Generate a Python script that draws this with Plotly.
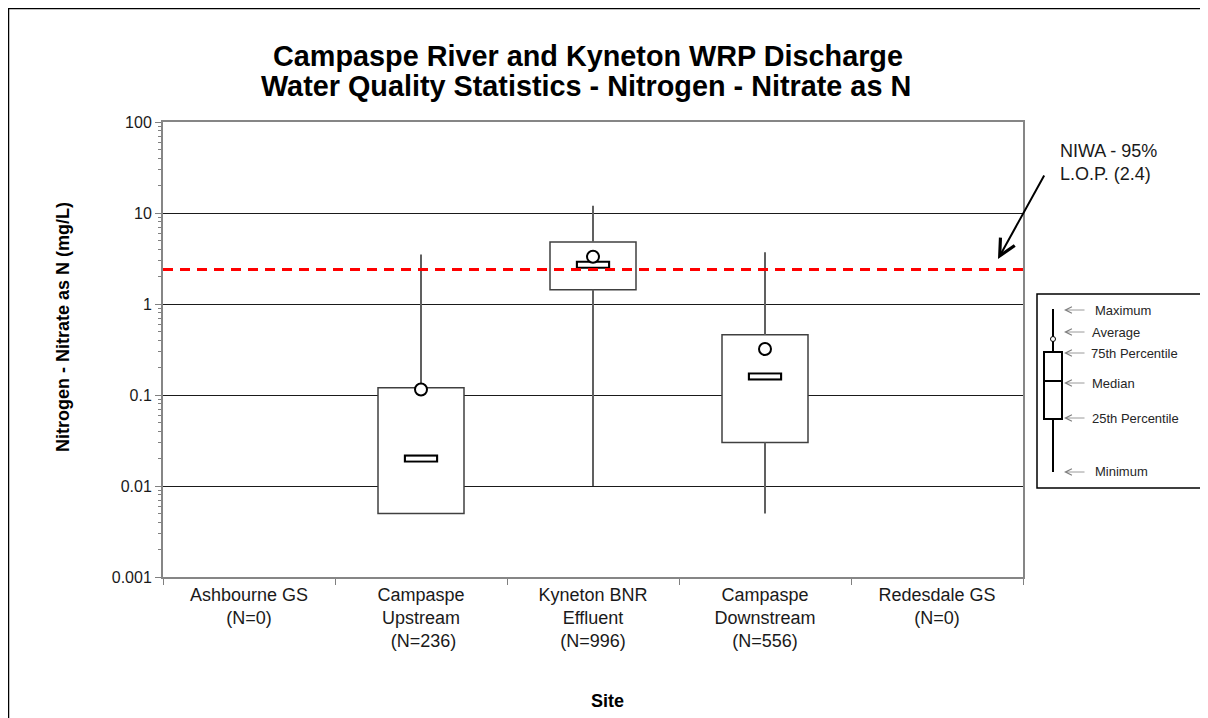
import plotly.graph_objects as go

# site statistics (mg/L)
sites = ["Ashbourne GS", "Campaspe Upstream", "Kyneton BNR Effluent",
         "Campaspe Downstream", "Redesdale GS"]
tick_labels = ["Ashbourne GS<br>(N=0)",
               "Campaspe<br>Upstream<br>\u00a0(N=236)",
               "Kyneton BNR<br>Effluent<br>(N=996)",
               "Campaspe<br>Downstream<br>(N=556)",
               "Redesdale GS<br>(N=0)"]
minimum = [None, 0.005, 0.01, 0.005, None]
pct25 = [None, 0.005, 1.43, 0.03, None]
median = [None, 0.02, 2.7, 0.16, None]
pct75 = [None, 0.12, 4.8, 0.46, None]
maximum = [None, 3.5, 12.0, 3.7, None]
average = [None, 0.115, 3.3, 0.32, None]
niwa_limit = 2.4

y_ticks = [0.001, 0.01, 0.1, 1, 10, 100]
y_ticktext = ["0.001", "0.01", "0.1", "1", "10", "100"]
y_minor = [m * d for d in y_ticks[:-1] for m in range(2, 10)]

FONT = "Liberation Sans, Arial, sans-serif"
# page has an 8px body margin, so the figure is 8px smaller than the window
W, H = 1200, 710
L, R, T, B = 155, 185, 114, 141
PW, PH = W - L - R, H - T - B
PLOT_X0, PLOT_Y1 = 163, 577   # plot area corners in page pixels


def px(x):
    return (x - PLOT_X0) / PW


def py(y):
    return (PLOT_Y1 - y) / PH


fig = go.Figure()

# boxes (25th - 75th percentile)
box_height = [None if a is None else b - a for a, b in zip(pct25, pct75)]
fig.add_trace(go.Bar(
    x=sites, y=box_height, base=pct25, width=0.5,
    marker=dict(color="white", line=dict(color="#404040", width=1.5)),
    hoverinfo="skip"))

# whiskers
wx, wy = [], []
for s, lo, q1, q3, hi in zip(sites, minimum, pct25, pct75, maximum):
    if lo is None:
        continue
    wx += [s, s, None, s, s, None]
    wy += [q3, hi, None, lo, q1, None]
fig.add_trace(go.Scatter(x=wx, y=wy, mode="lines",
                         line=dict(color="#606060", width=2), hoverinfo="skip"))

# median: small framed bar
fig.add_trace(go.Scatter(
    x=sites, y=median, mode="markers",
    marker=dict(symbol="line-ew", size=24.5, color="black",
                line=dict(color="black", width=8)), hoverinfo="skip"))
fig.add_trace(go.Scatter(
    x=sites, y=median, mode="markers",
    marker=dict(symbol="line-ew", size=21.5, color="white",
                line=dict(color="white", width=4)), hoverinfo="skip"))

# average
fig.add_trace(go.Scatter(
    x=sites, y=average, mode="markers",
    marker=dict(symbol="circle", size=12, color="white",
                line=dict(color="black", width=2)), hoverinfo="skip"))

shapes = []
# NIWA guideline
shapes.append(dict(type="line", xref="paper", x0=0, x1=1, yref="y",
                   y0=niwa_limit, y1=niwa_limit,
                   line=dict(color="#ff0000", width=3, dash="10px,7px")))
# outer chart frame
shapes.append(dict(type="rect", xref="paper", yref="paper",
                   x0=px(8.5), x1=px(1206), y0=py(8.5), y1=py(740),
                   line=dict(color="black", width=1.5)))
# legend key frame
shapes.append(dict(type="rect", xref="paper", yref="paper",
                   x0=px(1037), x1=px(1201), y0=py(294), y1=py(488),
                   line=dict(color="black", width=1.5), fillcolor="white"))
shapes.append(dict(type="line", xref="paper", yref="paper",
                   x0=px(1053), x1=px(1053), y0=py(309), y1=py(472),
                   line=dict(color="black", width=2)))
shapes.append(dict(type="rect", xref="paper", yref="paper",
                   x0=px(1044), x1=px(1062), y0=py(352), y1=py(419),
                   line=dict(color="black", width=2), fillcolor="white"))
shapes.append(dict(type="line", xref="paper", yref="paper",
                   x0=px(1044), x1=px(1062), y0=py(381), y1=py(381),
                   line=dict(color="black", width=2)))
shapes.append(dict(type="circle", xref="paper", yref="paper",
                   x0=px(1050.5), x1=px(1055.5), y0=py(336.5), y1=py(341.5),
                   line=dict(color="black", width=1), fillcolor="white"))


def label(text, x, y, size, bold=False, **kw):
    d = dict(text=f"<b>{text}</b>" if bold else text, x=px(x), y=py(y),
             xref="paper", yref="paper", showarrow=False,
             xanchor="center", yanchor="middle",
             font=dict(size=size, family=FONT, color="black"))
    d.update(kw)
    return d


annotations = [
    label("Campaspe River and Kyneton WRP Discharge", 588, 56, 28.8, True),
    label("Water Quality Statistics - Nitrogen - Nitrate as N", 586, 86, 28.8, True),
    label("Nitrogen - Nitrate as N (mg/L)", 63, 327, 18, True, textangle=-90),
    label("Site", 607, 701, 18, True),
    label("NIWA - 95%<br>L.O.P. (2.4)", 1058, 139, 18, align="left",
          xanchor="left", yanchor="top",
          font=dict(size=18, family=FONT, color="#1a1a1a")),
    dict(text="", x=px(998), y=py(259), xref="paper", yref="paper",
         showarrow=True, ax=47, ay=-85, arrowhead=5, arrowsize=1.6,
         arrowwidth=2, arrowcolor="black", standoff=0),
]

key_labels = ["Maximum", "Average", "75th Percentile", "Median",
              "25th Percentile", "Minimum"]
key_y = [310, 332, 353, 383, 418, 472]
key_x = [1093, 1090, 1089, 1090, 1090, 1093]
for lab, ky, kx in zip(key_labels, key_y, key_x):
    annotations.append(label(lab, kx, ky, 13, xanchor="left",
                             font=dict(size=13, family=FONT, color="#262626")))
    annotations.append(dict(text="", x=px(1064), y=py(ky), xref="paper",
                            yref="paper", showarrow=True, ax=22, ay=0,
                            arrowhead=5, arrowsize=1.6, arrowwidth=0.8,
                            arrowcolor="#808080", standoff=0))

fig.update_layout(
    width=W, height=H,
    margin=dict(l=L, r=R, t=T, b=B),
    paper_bgcolor="white", plot_bgcolor="white",
    showlegend=False,
    font=dict(family=FONT, color="#1a1a1a"),
    shapes=shapes, annotations=annotations,
)
fig.update_xaxes(
    type="category", categoryorder="array", categoryarray=sites,
    tickvals=sites, ticktext=tick_labels, tickson="boundaries",
    ticks="outside", ticklen=6, tickcolor="#808080",
    tickfont=dict(size=18, family=FONT, color="#1a1a1a"),
    showline=True, linecolor="#868686", linewidth=2, mirror=True,
    showgrid=False, range=[-0.5, 4.5], zeroline=False)
fig.update_yaxes(
    type="log", range=[-3, 2], tickvals=y_ticks, ticktext=y_ticktext,
    ticks="outside", ticklen=6, tickcolor="#808080",
    tickfont=dict(size=16, family=FONT, color="#1a1a1a"),
    showline=True, linecolor="#868686", linewidth=2, mirror=True,
    showgrid=True, gridcolor="#1a1a1a", gridwidth=1,
    minor=dict(ticks="outside", ticklen=3, tickvals=y_minor,
               tickcolor="#808080", showgrid=False),
    zeroline=False)

fig.write_html("out.html")
